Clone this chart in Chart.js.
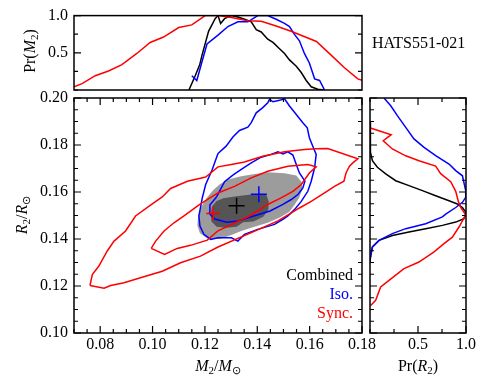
<!DOCTYPE html>
<html>
<head>
<meta charset="utf-8">
<script src="https://cdn.jsdelivr.net/npm/chart.js@4.4.0/dist/chart.umd.min.js"></script>
<style>
  body { margin: 0; background: #fff; }
  #wrap { position: relative; width: 491px; height: 392px; overflow: hidden; font-family: 'Liberation Serif', 'Times New Roman', serif; }
  canvas { position: absolute; left: 0; top: 0; }
  .txt { position: absolute; font-size: 16px; line-height: 19px; white-space: nowrap; }
</style>
</head>
<body>
<div id="wrap">
  <canvas id="topChart" width="491" height="392"></canvas>
  <canvas id="mainChart" width="491" height="392"></canvas>
  <canvas id="sideChart" width="491" height="392"></canvas>
  <div class="txt" style="left:372px; top:33px;">HATS551-021</div>
  <div class="txt" style="right:138px; top:265px; text-align:right;">
    <span style="color:#000">Combined</span><br>
    <span style="color:#0000ff">Iso.</span><br>
    <span style="color:#ff0000">Sync.</span>
  </div>
</div>
<script>
// tick labels
const massTicks = [0.08, 0.10, 0.12, 0.14, 0.16, 0.18];
const radiusTicks = [0.10, 0.12, 0.14, 0.16, 0.18, 0.20];
const probTicks = [0.5, 1.0];

// 2D contours (M2, R2) - Sync. outer / inner
const syncOuterM = [0.0761,0.0770,0.0795,0.0827,0.0853,0.0897,0.0935,0.0999,0.1037,0.1069,0.1133,0.1203,0.1250,0.1301,0.1351,0.1421,0.1504,0.1580,0.1625,0.1669,0.1784,0.1765,0.1752,0.1739,0.1731,0.1695,0.1657,0.1606,0.1561,0.1530,0.1479,0.1377,0.1250,0.1183,0.1107,0.1037,0.0954,0.0891,0.0840,0.0815];
const syncOuterR = [0.1202,0.1249,0.1285,0.1349,0.1391,0.1434,0.1498,0.1549,0.1579,0.1615,0.1646,0.1664,0.1707,0.1717,0.1728,0.1752,0.1771,0.1781,0.1784,0.1785,0.1741,0.1724,0.1710,0.1681,0.1646,0.1624,0.1596,0.1560,0.1532,0.1511,0.1477,0.1427,0.1366,0.1327,0.1299,0.1263,0.1235,0.1214,0.1202,0.1191];
const syncInnerM = [0.0995,0.1012,0.1044,0.1082,0.1120,0.1183,0.1250,0.1313,0.1377,0.1440,0.1517,0.1593,0.1625,0.1599,0.1568,0.1536,0.1491,0.1440,0.1370,0.1250,0.1209,0.1145,0.1094,0.1046];
const syncInnerR = [0.1360,0.1391,0.1434,0.1469,0.1498,0.1549,0.1596,0.1624,0.1660,0.1688,0.1710,0.1717,0.1707,0.1681,0.1632,0.1603,0.1575,0.1547,0.1498,0.1435,0.1395,0.1373,0.1360,0.1334];

// Iso. outer / inner
const isoOuterM = [0.1250,0.1281,0.1307,0.1332,0.1364,0.1377,0.1396,0.1421,0.1440,0.1447,0.1460,0.1485,0.1504,0.1523,0.1549,0.1574,0.1591,0.1599,0.1612,0.1625,0.1619,0.1606,0.1593,0.1568,0.1542,0.1517,0.1498,0.1466,0.1402,0.1351,0.1326,0.1301,0.1250,0.1222,0.1196,0.1181,0.1177,0.1190,0.1203,0.1228];
const isoOuterR = [0.1764,0.1795,0.1834,0.1862,0.1876,0.1895,0.1937,0.1959,0.1980,0.1994,0.1984,0.1990,0.1997,0.1966,0.1930,0.1895,0.1873,0.1831,0.1795,0.1760,0.1703,0.1646,0.1603,0.1560,0.1525,0.1498,0.1484,0.1462,0.1441,0.1420,0.1391,0.1405,0.1405,0.1398,0.1420,0.1455,0.1498,0.1575,0.1632,0.1696];
const isoInnerM = [0.1245,0.1275,0.1308,0.1339,0.1377,0.1415,0.1453,0.1479,0.1498,0.1517,0.1536,0.1549,0.1561,0.1582,0.1574,0.1555,0.1530,0.1498,0.1449,0.1377,0.1326,0.1283,0.1238,0.1217,0.1219];
const isoInnerR = [0.1580,0.1644,0.1673,0.1696,0.1724,0.1748,0.1760,0.1771,0.1762,0.1771,0.1757,0.1717,0.1681,0.1646,0.1617,0.1589,0.1568,0.1547,0.1519,0.1495,0.1477,0.1471,0.1485,0.1509,0.1545];

// Combined filled regions (outer = light, inner = dark)
const combOuterM = [0.1171,0.1175,0.1187,0.1206,0.1232,0.1257,0.1288,0.1339,0.1390,0.1440,0.1504,0.1549,0.1570,0.1573,0.1560,0.1542,0.1523,0.1486,0.1440,0.1377,0.1339,0.1301,0.1257,0.1213,0.1181];
const combOuterR = [0.1459,0.1502,0.1538,0.1573,0.1609,0.1633,0.1653,0.1667,0.1677,0.1684,0.1680,0.1670,0.1641,0.1613,0.1576,0.1545,0.1516,0.1491,0.1469,0.1448,0.1434,0.1417,0.1400,0.1400,0.1424];
const combInnerM = [0.1222,0.1227,0.1245,0.1270,0.1308,0.1359,0.1410,0.1435,0.1444,0.1442,0.1423,0.1385,0.1346,0.1321,0.1283,0.1245,0.1225];
const combInnerR = [0.1502,0.1538,0.1562,0.1573,0.1580,0.1587,0.1593,0.1587,0.1559,0.1523,0.1495,0.1474,0.1471,0.1452,0.1448,0.1452,0.1474];

// best-fit crosses [M2, R2]
const bestCombined = [0.1321, 0.1542];
const bestIso = [0.1406, 0.1590];
const bestSync = [0.1232, 0.1509];

// Pr(M2) marginals
const prMSyncM = [0.0700,0.0731,0.0781,0.0832,0.0883,0.0940,0.0991,0.1042,0.1100,0.1150,0.1201,0.1250,0.1301,0.1364,0.1415,0.1472,0.1529,0.1626,0.1682,0.1733,0.1784,0.1800];
const prMSync = [0.043,0.086,0.192,0.256,0.341,0.491,0.639,0.712,0.840,0.875,1.0,1.0,0.975,0.930,0.925,0.860,0.789,0.652,0.469,0.299,0.150,0.130];
const prMCombM = [0.1139,0.1163,0.1180,0.1189,0.1214,0.1239,0.1250,0.1260,0.1275,0.1300,0.1326,0.1352,0.1377,0.1396,0.1415,0.1440,0.1460,0.1485,0.1504,0.1523,0.1549,0.1568,0.1587,0.1606,0.1631,0.1657];
const prMComb = [0.0,0.192,0.338,0.469,0.789,0.959,1.0,0.895,0.959,1.0,0.981,0.951,0.917,0.811,0.780,0.683,0.639,0.555,0.491,0.405,0.320,0.235,0.128,0.043,0.01,0.0];
const prMIsoM = [0.1150,0.1169,0.1188,0.1208,0.1250,0.1288,0.1326,0.1364,0.1402,0.1440,0.1472,0.1504,0.1523,0.1542,0.1561,0.1580,0.1599,0.1619,0.1638,0.1657];
const prMIso = [0.192,0.128,0.370,0.619,0.738,0.853,0.917,0.917,1.0,1.0,0.951,0.895,0.853,0.747,0.661,0.491,0.363,0.150,0.128,0.0];

// Pr(R2) marginals
const prRIsoR = [0.2000,0.1967,0.1925,0.1875,0.1826,0.1790,0.1755,0.1719,0.1691,0.1669,0.1606,0.1577,0.1556,0.1534,0.1506,0.1494,0.1465,0.1444,0.1423,0.1394,0.1366,0.1323];
const prRIso = [0.146,0.216,0.285,0.372,0.458,0.563,0.684,0.823,0.893,0.963,0.997,0.997,0.963,0.893,0.789,0.754,0.580,0.372,0.233,0.094,0.025,0.007];
const prRCombR = [0.1900,0.1823,0.1769,0.1733,0.1705,0.1677,0.1648,0.1627,0.1606,0.1584,0.1563,0.1549,0.1534,0.1512,0.1486,0.1472,0.1458,0.1444,0.1430,0.1415,0.1394,0.1366,0.1333,0.1300];
const prRComb = [0.0,0.002,0.007,0.025,0.077,0.164,0.268,0.406,0.546,0.684,0.823,0.910,0.963,1.0,0.979,0.893,0.754,0.580,0.406,0.233,0.094,0.025,0.007,0.0];
const prRSyncR = [0.1872,0.1844,0.1818,0.1783,0.1754,0.1733,0.1710,0.1678,0.1644,0.1603,0.1559,0.1531,0.1503,0.1451,0.1408,0.1380,0.1345,0.1302,0.1274,0.1224,0.1196,0.1139,0.1117];
const prRSync = [0.004,0.221,0.138,0.233,0.372,0.510,0.684,0.736,0.841,0.893,0.921,0.950,0.997,0.927,0.858,0.771,0.667,0.510,0.354,0.198,0.111,0.059,0.007];

const RED = '#ff0000', BLUE = '#0000ff', BLACK = '#000000';
const serif = "'Liberation Serif', 'Times New Roman', serif";
Chart.defaults.font.family = serif;
Chart.defaults.font.size = 16;
Chart.defaults.color = '#000';

const pts = (xs, ys) => xs.map((x, i) => ({ x: x, y: ys[i] }));
const closed = (xs, ys) => { const p = pts(xs, ys); p.push(p[0]); return p; };

function lineSet(data, color, order) {
  return { data: data, showLine: true, borderColor: color, borderWidth: 1.5, pointRadius: 0, tension: 0, fill: false, order: order || 2 };
}

// inward ticks + frame for every panel
const framePlugin = {
  id: 'frame',
  afterDatasetsDraw(chart, args, o) {
    const { ctx, chartArea: a } = chart;
    const xs = chart.scales.x, ys = chart.scales.y;
    ctx.save();
    ctx.strokeStyle = '#000';
    ctx.lineWidth = 1.2;
    ctx.beginPath();
    const seg = (x1, y1, x2, y2) => { ctx.moveTo(x1, y1); ctx.lineTo(x2, y2); };
    const doX = (step, majors) => {
      for (let v = xs.min; v <= xs.max + 1e-9; v += step) {
        const isMaj = majors.some(m => Math.abs(m - v) < 1e-6);
        const len = isMaj ? 7 : 4, px = xs.getPixelForValue(v);
        seg(px, a.bottom, px, a.bottom - len);
        seg(px, a.top, px, a.top + len);
      }
    };
    const doY = (step, majors) => {
      for (let v = ys.min; v <= ys.max + 1e-9; v += step) {
        const isMaj = majors.some(m => Math.abs(m - v) < 1e-6);
        const len = isMaj ? 7 : 4, py = ys.getPixelForValue(v);
        seg(a.left, py, a.left + len, py);
        seg(a.right, py, a.right - len, py);
      }
    };
    if (o.xStep) doX(o.xStep, o.xMajors);
    if (o.yStep) doY(o.yStep, o.yMajors);
    ctx.stroke();
    ctx.lineWidth = 1.5;
    ctx.strokeRect(a.left, a.top, a.right - a.left, a.bottom - a.top);
    ctx.restore();
  }
};

// axis titles with italics and subscripts
function drawRich(ctx, parts, cx, cy, rot) {
  const fontFor = p => (p.it ? 'italic ' : '') + (p.sub ? '11px ' : '16px ') + serif;
  ctx.save();
  ctx.translate(cx, cy);
  if (rot) ctx.rotate(-Math.PI / 2);
  let w = 0;
  parts.forEach(p => { ctx.font = fontFor(p); w += ctx.measureText(p.t).width; });
  let x = -w / 2;
  ctx.fillStyle = '#000';
  ctx.textBaseline = 'alphabetic';
  parts.forEach(p => {
    ctx.font = fontFor(p);
    ctx.fillText(p.t, x, p.sub ? 8 : 5);
    x += ctx.measureText(p.t).width;
  });
  ctx.restore();
}
const titlePlugin = {
  id: 'titles',
  afterDraw(chart, args, o) {
    (o.items || []).forEach(it => drawRich(chart.ctx, it.parts, it.x, it.y, it.rot));
  }
};

const baseScale = {
  type: 'linear',
  grid: { display: false, drawTicks: false },
  border: { display: false }
};

// main panel
new Chart(document.getElementById('mainChart'), {
  type: 'scatter',
  data: {
    datasets: [
      { data: closed(combOuterM, combOuterR), showLine: true, borderColor: 'transparent', borderWidth: 0, backgroundColor: '#9c9c9c', fill: 'shape', pointRadius: 0, tension: 0, order: 5 },
      { data: closed(combInnerM, combInnerR), showLine: true, borderColor: 'transparent', borderWidth: 0, backgroundColor: '#555555', fill: 'shape', pointRadius: 0, tension: 0, order: 4 },
      lineSet(closed(syncOuterM, syncOuterR), RED),
      lineSet(closed(syncInnerM, syncInnerR), RED),
      lineSet(closed(isoOuterM, isoOuterR), BLUE),
      lineSet(closed(isoInnerM, isoInnerR), BLUE),
      { data: [{ x: bestCombined[0], y: bestCombined[1] }], pointStyle: 'cross', pointRadius: 8, borderWidth: 1.5, borderColor: BLACK, backgroundColor: BLACK, order: 1 },
      { data: [{ x: bestIso[0], y: bestIso[1] }], pointStyle: 'cross', pointRadius: 8, borderWidth: 1.5, borderColor: BLUE, backgroundColor: BLUE, order: 1 },
      { data: [{ x: bestSync[0], y: bestSync[1] }], pointStyle: 'cross', pointRadius: 7, borderWidth: 1.5, borderColor: RED, backgroundColor: RED, order: 1 }
    ]
  },
  options: {
    responsive: false, animation: false,
    layout: { padding: { left: 20, right: 129, top: 98, bottom: 29 } },
    plugins: {
      legend: { display: false }, tooltip: { enabled: false },
      frame: { xStep: 0.005, xMajors: massTicks, yStep: 0.005, yMajors: radiusTicks },
      titles: { items: [
        { parts: [{ t: 'M', it: true }, { t: '2', sub: true }, { t: '/' }, { t: 'M', it: true }, { t: '\u2299', sub: true }], x: 218, y: 366 },
        { parts: [{ t: 'R', it: true }, { t: '2', sub: true }, { t: '/' }, { t: 'R', it: true }, { t: '\u2299', sub: true }], x: 22, y: 215, rot: true }
      ] }
    },
    scales: {
      x: Object.assign({}, baseScale, {
        min: 0.07, max: 0.18,
        afterBuildTicks: s => { s.ticks = massTicks.map(v => ({ value: v })); },
        ticks: { padding: 2, maxRotation: 0, autoSkip: false, callback: v => v.toFixed(2) },
        afterFit: s => { s.height = 30; }
      }),
      y: Object.assign({}, baseScale, {
        min: 0.10, max: 0.20,
        afterBuildTicks: s => { s.ticks = radiusTicks.map(v => ({ value: v })); },
        ticks: { padding: 6, autoSkip: false, callback: v => v.toFixed(2) },
        afterFit: s => { s.width = 54; }
      })
    }
  },
  plugins: [framePlugin, titlePlugin]
});

// top panel: Pr(M2)
new Chart(document.getElementById('topChart'), {
  type: 'scatter',
  data: {
    datasets: [
      lineSet(pts(prMCombM, prMComb), BLACK, 3),
      lineSet(pts(prMIsoM, prMIso), BLUE, 2),
      lineSet(pts(prMSyncM, prMSync), RED, 1)
    ]
  },
  options: {
    responsive: false, animation: false,
    layout: { padding: { left: 20, right: 129, top: 12, bottom: 302 } },
    plugins: {
      legend: { display: false }, tooltip: { enabled: false },
      frame: { yStep: 0.25, yMajors: probTicks },
      titles: { items: [
        { parts: [{ t: 'Pr(' }, { t: 'M', it: true }, { t: '2', sub: true }, { t: ')' }], x: 30, y: 51, rot: true }
      ] }
    },
    scales: {
      x: Object.assign({}, baseScale, { min: 0.07, max: 0.18, display: false }),
      y: Object.assign({}, baseScale, {
        min: 0, max: 1.0,
        afterBuildTicks: s => { s.ticks = probTicks.map(v => ({ value: v })); },
        ticks: { padding: 6, autoSkip: false, callback: v => v.toFixed(1) },
        afterFit: s => { s.width = 54; }
      })
    }
  },
  plugins: [framePlugin, titlePlugin]
});

// side panel: Pr(R2)
new Chart(document.getElementById('sideChart'), {
  type: 'scatter',
  data: {
    datasets: [
      lineSet(pts(prRComb, prRCombR), BLACK, 3),
      lineSet(pts(prRIso, prRIsoR), BLUE, 2),
      lineSet(pts(prRSync, prRSyncR), RED, 1)
    ]
  },
  options: {
    responsive: false, animation: false,
    layout: { padding: { left: 370, right: 25, top: 98, bottom: 29 } },
    plugins: {
      legend: { display: false }, tooltip: { enabled: false },
      frame: { xStep: 0.25, xMajors: probTicks, yStep: 0.005, yMajors: radiusTicks },
      titles: { items: [
        { parts: [{ t: 'Pr(' }, { t: 'R', it: true }, { t: '2', sub: true }, { t: ')' }], x: 418, y: 366 }
      ] }
    },
    scales: {
      x: Object.assign({}, baseScale, {
        min: 0, max: 1.0,
        afterBuildTicks: s => { s.ticks = probTicks.map(v => ({ value: v })); },
        ticks: { padding: 2, maxRotation: 0, autoSkip: false, callback: v => v.toFixed(1) },
        afterFit: s => { s.height = 30; }
      }),
      y: Object.assign({}, baseScale, { min: 0.10, max: 0.20, display: false })
    }
  },
  plugins: [framePlugin, titlePlugin]
});
</script>
</body>
</html>
